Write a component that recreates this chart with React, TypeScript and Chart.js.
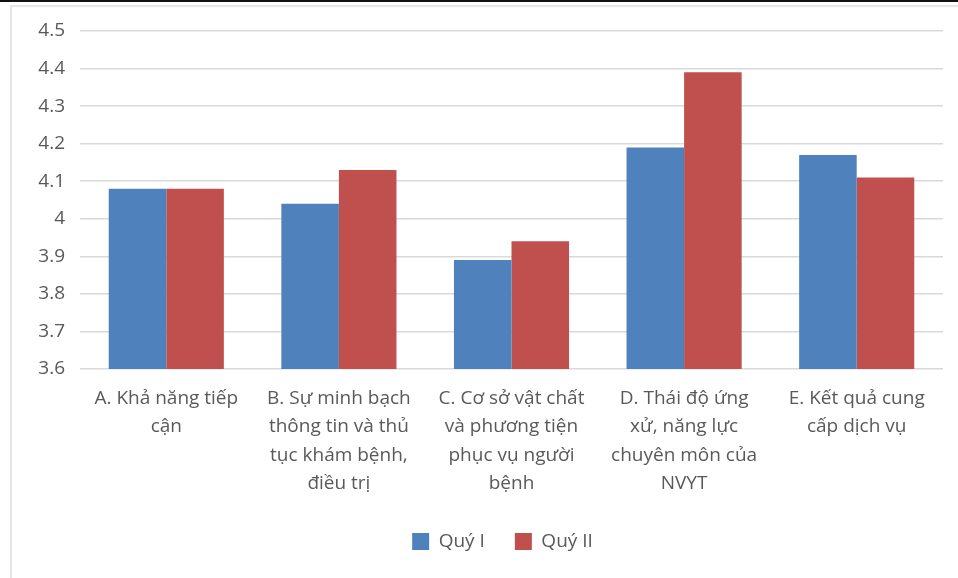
import React, { useEffect, useRef } from "react";
import { Chart, registerables } from "chart.js";

Chart.register(...registerables);

const categories: string[][] = [
  ["A. Khả năng tiếp", "cận"],
  ["B. Sự minh bạch", "thông tin và thủ", "tục khám bệnh,", "điều trị"],
  ["C. Cơ sở vật chất", "và phương tiện", "phục vụ người", "bệnh"],
  ["D. Thái độ ứng", "xử, năng lực", "chuyên môn của", "NVYT"],
  ["E. Kết quả cung", "cấp dịch vụ"],
];
const seriesNames = ["Quý I", "Quý II"];
const quy1 = [4.08, 4.04, 3.89, 4.19, 4.17];
const quy2 = [4.08, 4.13, 3.94, 4.39, 4.11];
const yMin = 3.6;
const yMax = 4.5;
const yStep = 0.1;

const FONT = "'Open Sans', 'DejaVu Sans', sans-serif";
const TEXT = "#595959";

const legendShift = {
  id: "legendShift",
  afterLayout(chart: any) {
    if (chart.legend) {
      chart.legend.left += 16;
      chart.legend.right += 16;
    }
  },
};

export default function App() {
  const ref = useRef<HTMLCanvasElement>(null);
  useEffect(() => {
    if (!ref.current) return;
    const chart = new Chart(ref.current, {
      type: "bar",
      plugins: [legendShift],
      data: {
        labels: categories,
        datasets: [
          {
            label: seriesNames[0],
            data: quy1,
            backgroundColor: "#4F81BD",
            categoryPercentage: 0.667,
            barPercentage: 1,
          },
          {
            label: seriesNames[1],
            data: quy2,
            backgroundColor: "#C0504D",
            categoryPercentage: 0.667,
            barPercentage: 1,
          },
        ],
      },
      options: {
        responsive: false,
        animation: false,
        layout: { padding: { left: 30, right: 15, top: 31, bottom: 17 } },
        plugins: {
          legend: {
            position: "bottom",
            labels: {
              boxWidth: 17,
              boxHeight: 17,
              padding: 30,
              color: TEXT,
              font: { family: FONT, size: 19 },
            },
          },
          tooltip: { enabled: false },
        },
        scales: {
          x: {
            grid: { display: false, drawTicks: false },
            border: { display: false },
            ticks: {
              autoSkip: false,
              maxRotation: 0,
              minRotation: 0,
              padding: 15,
              color: TEXT,
              font: { family: FONT, size: 19, lineHeight: 1.5 },
            },
            afterFit: (s: any) => {
              s.height = 133;
            },
          },
          y: {
            min: yMin,
            max: yMax,
            grid: { color: "#d9d9d9", lineWidth: 1.5, drawTicks: false },
            border: { display: false },
            ticks: {
              stepSize: yStep,
              padding: 15,
              color: TEXT,
              font: { family: FONT, size: 19 },
              callback: (v: any) => String(parseFloat(Number(v).toFixed(1))),
            },
            afterFit: (s: any) => {
              s.width = 50;
            },
          },
        },
      },
    });
    return () => chart.destroy();
  }, []);

  return (
    <div
      style={{
        position: "fixed",
        left: 0,
        top: 0,
        width: 958,
        height: 578,
        background: "#fff",
        overflow: "hidden",
      }}
    >
      <div style={{ position: "absolute", left: 0, top: 0, width: 958, height: 2, background: "#111" }} />
      <div
        style={{
          position: "absolute",
          left: 10,
          top: 5,
          width: 958,
          height: 600,
          borderLeft: "2px solid #e6e6e6",
          borderTop: "2px solid #e6e6e6",
        }}
      />
      <canvas
        ref={ref}
        width={958}
        height={578}
        style={{ position: "absolute", left: 0, top: 0, width: 958, height: 578 }}
      />
    </div>
  );
}
